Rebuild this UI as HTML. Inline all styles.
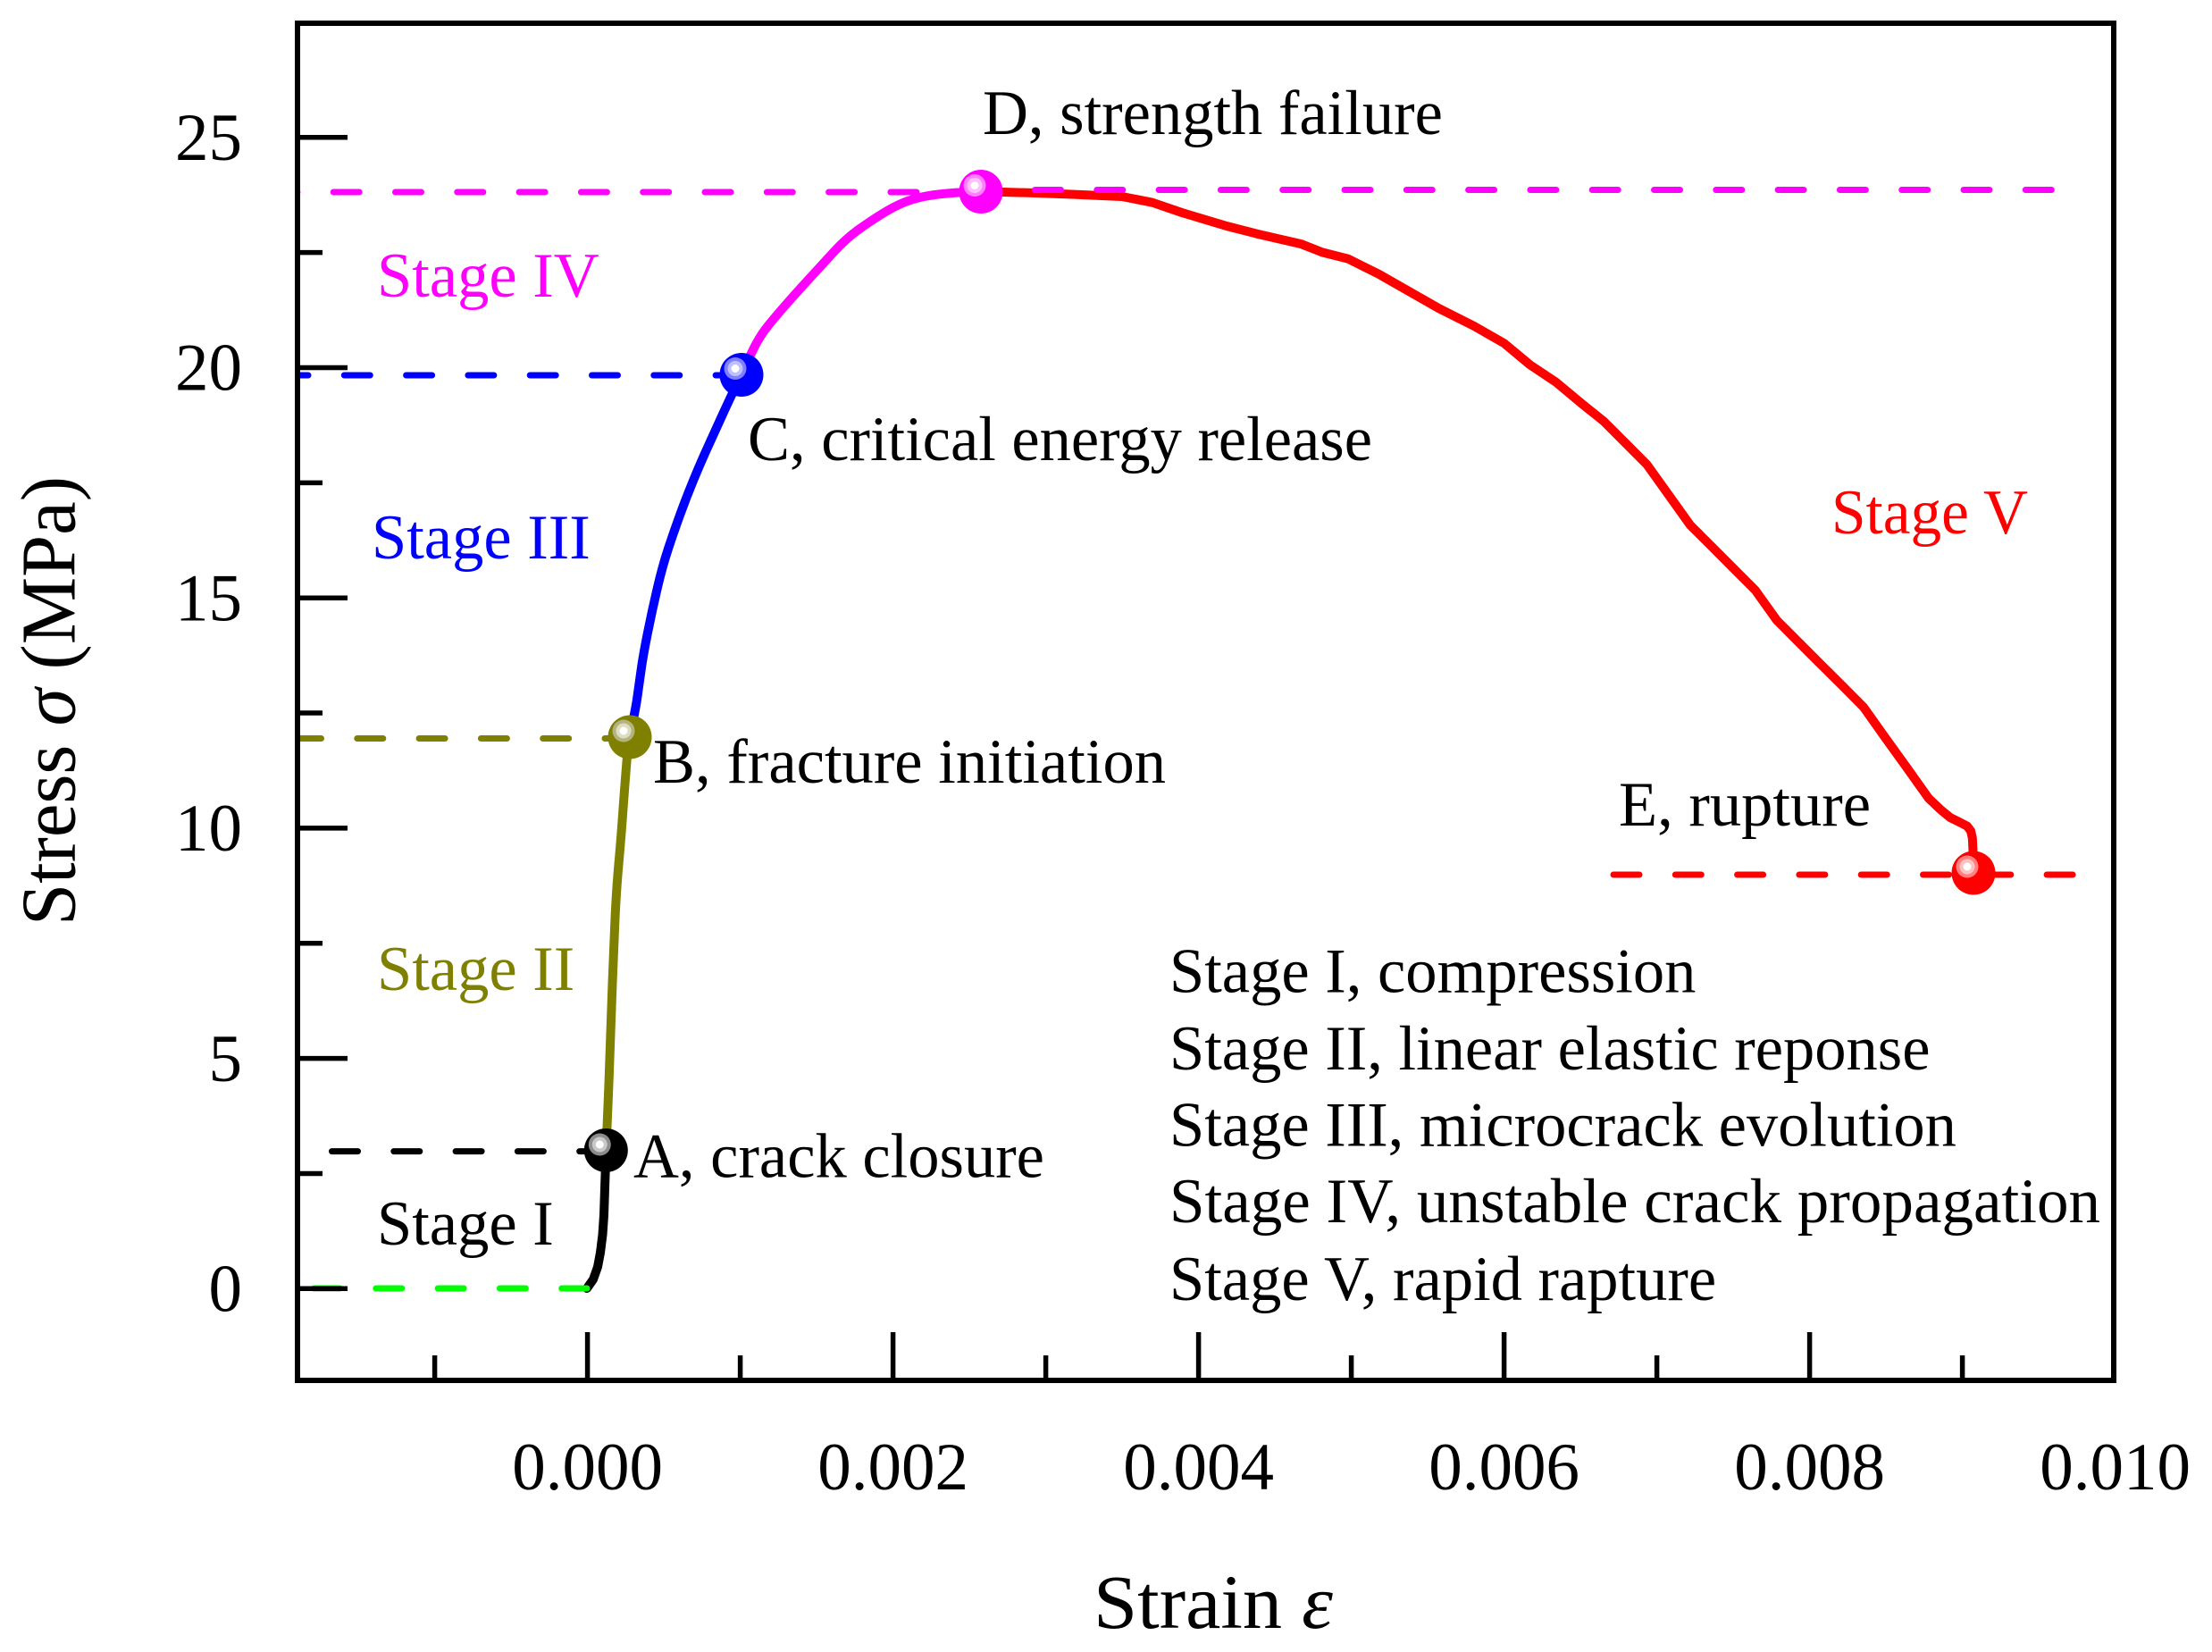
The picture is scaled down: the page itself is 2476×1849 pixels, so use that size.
<!DOCTYPE html>
<html>
<head>
<meta charset="utf-8">
<style>
html,body{margin:0;padding:0;background:#fff;}
svg{display:block;}
text{font-family:"Liberation Serif","Times New Roman",serif;}
</style>
</head>
<body>
<svg width="2476" height="1849" viewBox="0 0 2476 1849" xmlns="http://www.w3.org/2000/svg">
<defs>
<clipPath id="plot"><rect x="333" y="26" width="2033" height="1519"/></clipPath>
</defs>
<rect width="2476" height="1849" fill="#fff"/>

<!-- curves -->
<g fill="none" stroke-width="10" stroke-linejoin="round" stroke-linecap="round">
<polyline stroke="#000" points="657,1442 664,1432 669,1418 672,1402 674.5,1382 676,1360 677,1330 678,1300 678.3,1287"/>
<path stroke="#808000" d="M678.3,1287 Q681,1230 682.5,1185 Q684,1140 685.5,1100 Q687,1060 688.5,1027.5 Q690,995 692.5,967.5 Q695,940 697.5,905 Q700,870 704,822"/>
<path stroke="#0000ff" d="M705,822 Q711,797 713.25,781 Q715.5,765 717.75,749 Q720,733 725,708 Q730,683 735.85,658 Q741.7,633 748.35,613 Q755,593 761.65,574.85 Q768.3,556.7 775.8,538.35 Q783.3,520 791.65,501.65 Q800,483.3 808.35,465 Q816.7,446.7 830,419"/>
<path stroke="#ff00ff" d="M830,419 Q840,397 846,385.5 Q852,374 861,363 Q870,352 881,339.5 Q892,327 906,311.75 Q920,296.5 933.5,281.75 Q947,267 961,257 Q975,247 988,239 Q1001,231 1011.5,226.75 Q1022,222.5 1033,220.25 Q1044,218 1057,216.75 Q1070,215.5 1098,214"/>
<polyline stroke="#ff0000" points="1098,214 1123,215 1160,216 1200,217.5 1256,220 1290,226.7 1323,238 1373,253 1407,261.7 1457,273.3 1480,282.4 1509,289.7 1543,306.6 1577,326 1611,345.4 1649.7,364.8 1683.6,384.2 1712.7,408.4 1741.8,427.8 1770.8,452 1795,471.4 1819.3,495.7 1843.5,520 1867.8,553.9 1892,587.8 1916.3,612 1940.5,636.3 1964.7,660.5 1989,694.4 2013.2,718.7 2037.4,742.9 2061.7,767 2085.9,791.4 2110,825.3 2134.4,859.2 2158.6,893.2 2172,906 2182.9,915 2194,920.5 2202,924.7 2206,930 2207.8,938 2208.6,955 2209,977"/>
</g>

<!-- dashed reference lines -->
<g fill="none" stroke-width="7" stroke-linecap="round" stroke-dasharray="29 40.3" clip-path="url(#plot)">
<path stroke="#ff00ff" d="M303.9,215 H1098"/>
<path stroke="#ff00ff" d="M1158.5,212.5 H2300"/>
<path stroke="#0000ff" d="M316,420 H830"/>
<path stroke="#808000" d="M330.5,826.5 H704"/>
<path stroke="#000000" d="M371.5,1288.6 H678"/>
<path stroke="#00ff00" d="M351.5,1442 H657"/>
<path stroke="#ff0000" d="M1806,979 H2321"/>
</g>

<!-- markers -->
<g>
<circle cx="678.3" cy="1287.5" r="24.5" fill="#000"/>
<circle cx="671.3" cy="1281" r="12.5" fill="#8c8c8c"/>
<circle cx="671.3" cy="1281" r="8.5" fill="#c8c8c8"/>
<circle cx="671.3" cy="1281" r="4.5" fill="#fff"/>

<circle cx="705" cy="825" r="24.5" fill="#808000"/>
<circle cx="698" cy="818" r="12.5" fill="#b3b380"/>
<circle cx="698" cy="818" r="8.5" fill="#deddc0"/>
<circle cx="698" cy="818" r="4.5" fill="#fff"/>

<circle cx="830" cy="419.5" r="24.5" fill="#0000ff"/>
<circle cx="823" cy="412.5" r="12.5" fill="#7f7fff"/>
<circle cx="823" cy="412.5" r="8.5" fill="#c0c0ff"/>
<circle cx="823" cy="412.5" r="4.5" fill="#fff"/>

<circle cx="1098" cy="214.5" r="24.5" fill="#ff00ff"/>
<circle cx="1091" cy="207.5" r="12.5" fill="#ff80ff"/>
<circle cx="1091" cy="207.5" r="8.5" fill="#ffc0ff"/>
<circle cx="1091" cy="207.5" r="4.5" fill="#fff"/>

<circle cx="2209" cy="977" r="24.5" fill="#ff0000"/>
<circle cx="2202" cy="970" r="12.5" fill="#ff8080"/>
<circle cx="2202" cy="970" r="8.5" fill="#ffc0c0"/>
<circle cx="2202" cy="970" r="4.5" fill="#fff"/>
</g>

<!-- axes frame -->
<rect x="333" y="26" width="2033" height="1519" fill="none" stroke="#000" stroke-width="6"/>

<!-- y ticks -->
<g stroke="#000" stroke-width="5.5">
<line x1="333" y1="1442.3" x2="389" y2="1442.3"/>
<line x1="333" y1="1313.45" x2="361" y2="1313.45"/>
<line x1="333" y1="1184.6" x2="389" y2="1184.6"/>
<line x1="333" y1="1055.75" x2="361" y2="1055.75"/>
<line x1="333" y1="926.9" x2="389" y2="926.9"/>
<line x1="333" y1="798.05" x2="361" y2="798.05"/>
<line x1="333" y1="669.2" x2="389" y2="669.2"/>
<line x1="333" y1="540.35" x2="361" y2="540.35"/>
<line x1="333" y1="411.5" x2="389" y2="411.5"/>
<line x1="333" y1="282.65" x2="361" y2="282.65"/>
<line x1="333" y1="153.8" x2="389" y2="153.8"/>
</g>
<!-- x ticks -->
<g stroke="#000" stroke-width="5.5">
<line x1="486.6" y1="1545" x2="486.6" y2="1517"/>
<line x1="657.6" y1="1545" x2="657.6" y2="1491"/>
<line x1="828.6" y1="1545" x2="828.6" y2="1517"/>
<line x1="999.6" y1="1545" x2="999.6" y2="1491"/>
<line x1="1170.6" y1="1545" x2="1170.6" y2="1517"/>
<line x1="1341.6" y1="1545" x2="1341.6" y2="1491"/>
<line x1="1512.6" y1="1545" x2="1512.6" y2="1517"/>
<line x1="1683.6" y1="1545" x2="1683.6" y2="1491"/>
<line x1="1854.6" y1="1545" x2="1854.6" y2="1517"/>
<line x1="2025.6" y1="1545" x2="2025.6" y2="1491"/>
<line x1="2196.6" y1="1545" x2="2196.6" y2="1517"/>
</g>

<!-- y tick labels -->
<g font-size="75" text-anchor="end" fill="#000">
<text x="271" y="1467.5">0</text>
<text x="271" y="1209.8">5</text>
<text x="271" y="952.1">10</text>
<text x="271" y="694.4">15</text>
<text x="271" y="436.7">20</text>
<text x="271" y="179">25</text>
</g>
<!-- x tick labels -->
<g font-size="75" text-anchor="middle" fill="#000">
<text x="657.6" y="1667">0.000</text>
<text x="999.6" y="1667">0.002</text>
<text x="1341.6" y="1667">0.004</text>
<text x="1683.6" y="1667">0.006</text>
<text x="2025.6" y="1667">0.008</text>
<text x="2367.6" y="1667">0.010</text>
</g>

<!-- axis labels -->
<text x="1224" y="1822" font-size="86" textLength="268" lengthAdjust="spacingAndGlyphs">Strain <tspan font-style="italic">ε</tspan></text>
<text transform="translate(83.5,1036) rotate(-90)" font-size="87" textLength="503" lengthAdjust="spacingAndGlyphs">Stress <tspan font-style="italic">σ</tspan> (MPa)</text>

<!-- annotations -->
<g font-size="70.5" fill="#000">
<text x="1100" y="150">D, strength failure</text>
<text x="837" y="515" textLength="699" lengthAdjust="spacingAndGlyphs">C, critical energy release</text>
<text x="731" y="876" textLength="574" lengthAdjust="spacingAndGlyphs">B, fracture initiation</text>
<text x="709" y="1317.5">A, crack closure</text>
<text x="1812" y="924" textLength="282" lengthAdjust="spacingAndGlyphs">E, rupture</text>
<text x="422" y="1393">Stage I</text>
</g>
<g font-size="70.5">
<text x="422" y="332" fill="#ff00ff">Stage IV</text>
<text x="416" y="625" fill="#0000ff">Stage III</text>
<text x="422" y="1108" fill="#808000">Stage II</text>
<text x="2050" y="597" fill="#ff0000" textLength="220" lengthAdjust="spacingAndGlyphs">Stage V</text>
</g>

<!-- legend text -->
<g font-size="70.5" fill="#000">
<text x="1309" y="1110.5">Stage I, compression</text>
<text x="1309" y="1197">Stage II, linear elastic reponse</text>
<text x="1309" y="1282.5">Stage III, microcrack evolution</text>
<text x="1309" y="1368" textLength="1042" lengthAdjust="spacingAndGlyphs">Stage IV, unstable crack propagation</text>
<text x="1309" y="1455">Stage V, rapid rapture</text>
</g>
</svg>
</body>
</html>
